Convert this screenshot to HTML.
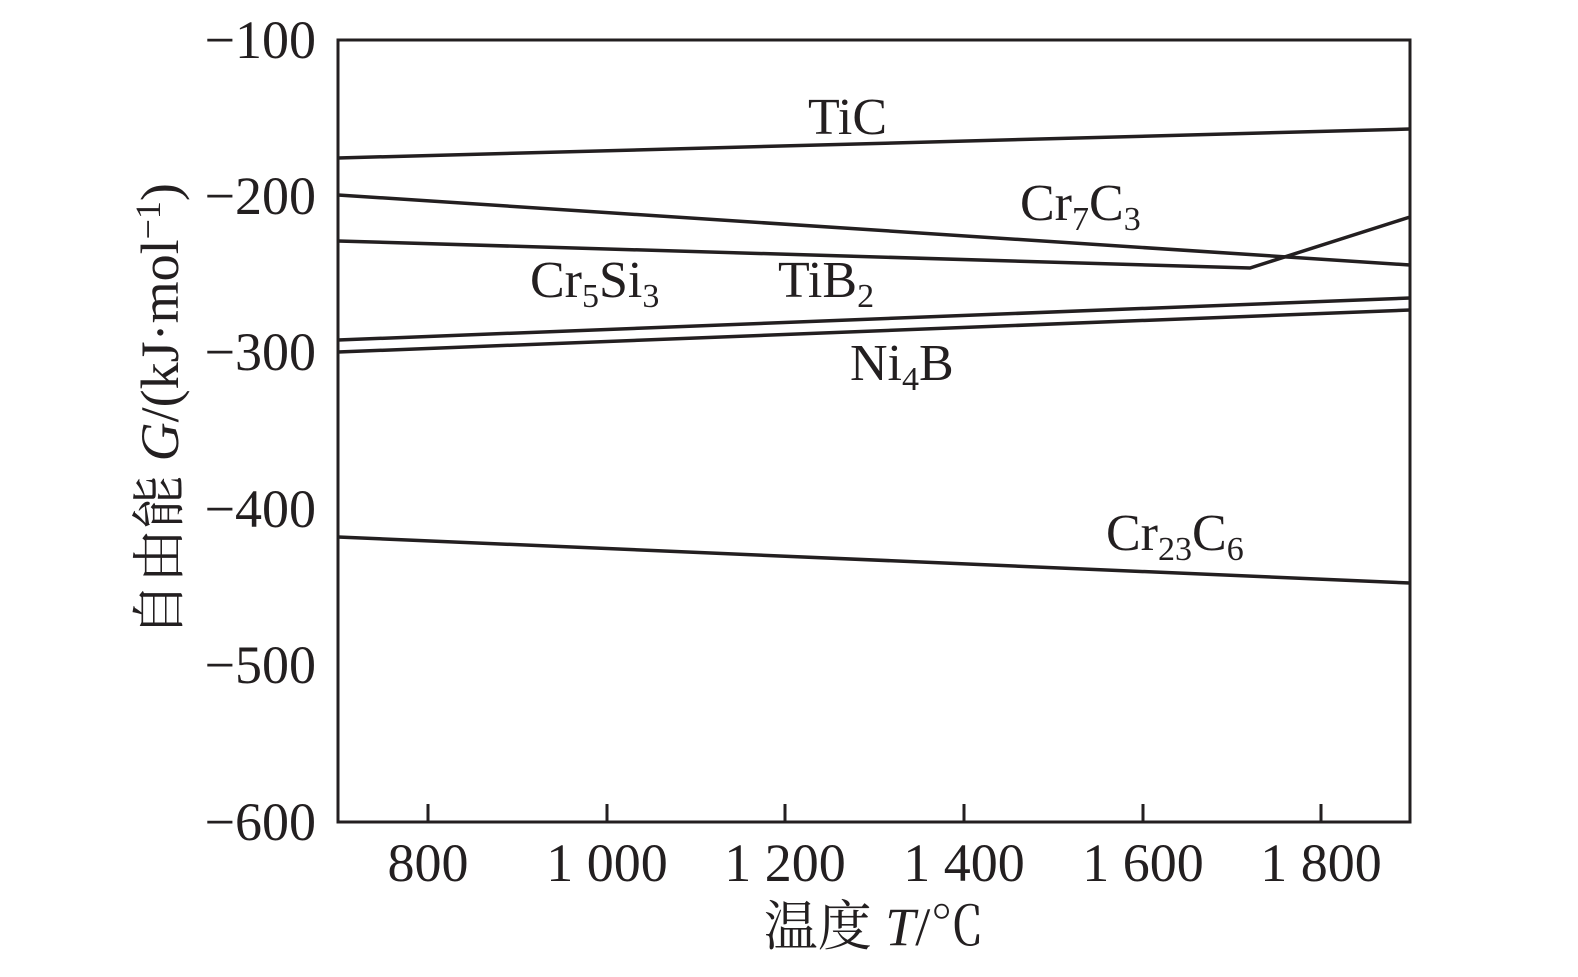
<!DOCTYPE html>
<html><head><meta charset="utf-8"><style>body{margin:0;background:#fff}</style></head><body>
<svg width="1578" height="972" xmlns="http://www.w3.org/2000/svg" font-family="'Liberation Serif','Noto Serif CJK SC',serif" fill="#231f20">
<rect x="338" y="40" width="1072" height="782" fill="none" stroke="#231f20" stroke-width="3"/>
<g stroke="#231f20" stroke-width="3">
<line x1="428" y1="822" x2="428" y2="804"/><line x1="607" y1="822" x2="607" y2="804"/><line x1="785" y1="822" x2="785" y2="804"/><line x1="964" y1="822" x2="964" y2="804"/><line x1="1143" y1="822" x2="1143" y2="804"/><line x1="1321" y1="822" x2="1321" y2="804"/>
</g>
<g stroke="#231f20" stroke-width="3.5" fill="none">
<line x1="338" y1="158" x2="1410" y2="129"/>
<line x1="338" y1="195" x2="1410" y2="265"/>
<polyline points="338,241 1250,268 1410,217"/>
<line x1="338" y1="340" x2="1410" y2="298"/>
<line x1="338" y1="352" x2="1410" y2="310"/>
<line x1="338" y1="537" x2="1410" y2="583"/>
</g>
<g font-size="54" text-anchor="end">
<text x="316" y="58">−100</text><text x="316" y="214">−200</text><text x="316" y="370">−300</text><text x="316" y="527">−400</text><text x="316" y="683">−500</text><text x="316" y="840">−600</text>
</g>
<g font-size="54" text-anchor="middle">
<text x="428" y="881">800</text><text x="607" y="881">1 000</text><text x="785" y="881">1 200</text><text x="964" y="881">1 400</text><text x="1143" y="881">1 600</text><text x="1321" y="881">1 800</text>
</g>
<g font-size="52">
<text x="808" y="134">TiC</text>
<text x="1020" y="220">Cr<tspan font-size="34" dy="10">7</tspan><tspan dy="-10">C</tspan><tspan font-size="34" dy="10">3</tspan></text>
<text x="530" y="297">Cr<tspan font-size="34" dy="10">5</tspan><tspan dy="-10">Si</tspan><tspan font-size="34" dy="10">3</tspan></text>
<text x="778" y="297">TiB<tspan font-size="34" dy="10">2</tspan></text>
<text x="850" y="380">Ni<tspan font-size="34" dy="10">4</tspan><tspan dy="-10">B</tspan></text>
<text x="1106" y="550">Cr<tspan font-size="34" dy="10">23</tspan><tspan dy="-10">C</tspan><tspan font-size="34" dy="10">6</tspan></text>
</g>
<text x="874" y="945" font-size="54" text-anchor="middle">温度 <tspan font-style="italic">T</tspan>/℃</text>
<text transform="translate(178,410) rotate(-90)" font-size="54" text-anchor="middle">自由能 <tspan font-style="italic">G</tspan>/(kJ·mol<tspan font-size="36" dy="-18">−1</tspan><tspan dy="18">)</tspan></text>
</svg>
</body></html>
